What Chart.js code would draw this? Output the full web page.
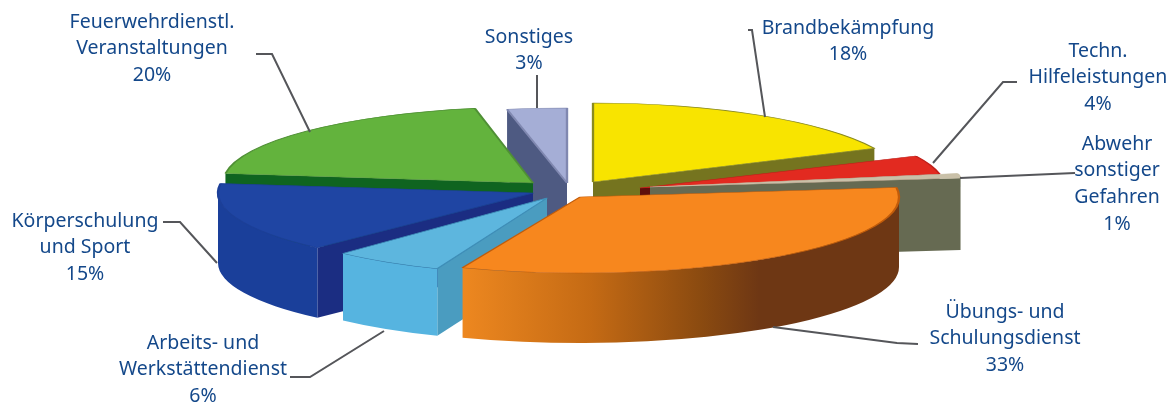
<!DOCTYPE html>
<html>
<head>
<meta charset="utf-8">
<style>
  html, body { margin: 0; padding: 0; background: #fff; }
  canvas { display: block; }
</style>
<script src="https://cdn.jsdelivr.net/npm/chart.js@4/dist/chart.umd.min.js"></script>
</head>
<body>
<canvas id="pieChart" width="1175" height="403"></canvas>
<script>
const categories = [
  ['Brandbekämpfung'],
  ['Techn.', 'Hilfeleistungen'],
  ['Abwehr', 'sonstiger', 'Gefahren'],
  ['Übungs- und', 'Schulungsdienst'],
  ['Arbeits- und', 'Werkstättendienst'],
  ['Körperschulung', 'und Sport'],
  ['Feuerwehrdienstl.', 'Veranstaltungen'],
  ['Sonstiges']
];
const values = [18, 4, 1, 33, 6, 15, 20, 3];

// colours of the top faces and the side walls
const topColors = ['#f8e400', '#e22a20', '#c9c0a8', '#f7871e', '#5db6de', '#1f45a3', '#63b33d', '#a5aed6'];
const topEdges = ['#8a8a20', '#c0201a', '#c9c0a8', '#c25c0a', '#3f8fb8', '#1c3f98', '#4f8f35', '#8088b0'];
const cutColors = ['#75741f', '#5e0f0c', '#666a52', '#b85f10', '#4a9cc0', '#1b2d82', '#0f6420', '#4e5a82'];
const outerColors = ['#75741f', '#5e0f0c', '#666a52', null, '#56b4e0', '#1a3f9a', '#0f6420', '#4e5a82'];

// exploded layout of every slice on the page
const apexX = [593, 640, 650, 580, 547, 533, 533, 567];
const apexY = [182, 188, 187, 197, 198, 193, 183, 183];
const radiusX = [311, 305, 313, 319, 298, 315, 310, 320];
const radiusY = [79, 75, 72, 76, 76, 75, 76, 75];
const depths = [70, 70, 72, 70, 67, 70, 70, 70];

// label centre x and the y of the first line
const labelX = [848, 1098, 1117, 1005, 203, 85, 152, 529];
const labelY = [28, 51, 144, 312, 343, 221, 22, 37];
const lineHeight = 26.7;
const leaders = [
  [[748, 30], [752, 30], [765, 117]],
  [[1017, 82], [1003, 82], [933, 163]],
  [[1075, 173], [960, 178]],
  [[918, 344], [897, 343], [773, 327]],
  [[290, 377], [310, 377], [384, 331]],
  [[163, 222], [180, 222], [217, 263]],
  [[256, 54], [272, 54], [310, 132]],
  [[537, 75], [537, 108]]
];
const drawOrder = [7, 6, 0, 1, 2, 5, 4, 3];

function orangeWall(ctx) {
  const g = ctx.createLinearGradient(460, 0, 900, 0);
  g.addColorStop(0, '#ee8820');
  g.addColorStop(0.3, '#c46a14');
  g.addColorStop(0.55, '#8a4a10');
  g.addColorStop(0.68, '#6e3714');
  g.addColorStop(1, '#6e3714');
  return g;
}

function cutWall(ctx, i, angle) {
  const x = apexX[i], y = apexY[i];
  const ox = x + radiusX[i] * Math.cos(angle);
  const oy = y + radiusY[i] * Math.sin(angle);
  ctx.fillStyle = cutColors[i];
  ctx.beginPath();
  ctx.moveTo(x, y);
  ctx.lineTo(ox, oy);
  ctx.lineTo(ox, oy + depths[i]);
  ctx.lineTo(x, y + depths[i]);
  ctx.closePath();
  ctx.fill();
}

function outerWall(ctx, i, a0, a1) {
  ctx.fillStyle = outerColors[i] || orangeWall(ctx);
  ctx.beginPath();
  ctx.ellipse(apexX[i], apexY[i], radiusX[i], radiusY[i], 0, a0, a1);
  ctx.ellipse(apexX[i], apexY[i] + depths[i], radiusX[i], radiusY[i], 0, a1, a0, true);
  ctx.closePath();
  ctx.fill();
}

const tiltedPie = {
  id: 'tiltedPie',
  beforeDatasetsDraw(chart) {
    const ctx = chart.ctx;
    const arcs = chart.getDatasetMeta(0).data;
    drawOrder.forEach(i => {
      const arc = arcs[i];
      if (Math.cos(arc.startAngle) < 0) cutWall(ctx, i, arc.startAngle);
      if (Math.cos(arc.endAngle) > 0) cutWall(ctx, i, arc.endAngle);
      const a0 = Math.max(arc.startAngle, 0), a1 = Math.min(arc.endAngle, Math.PI);
      if (a1 > a0) outerWall(ctx, i, a0, a1);
      // top face is the library's own arc, squashed onto the ellipse
      ctx.save();
      ctx.translate(apexX[i], apexY[i]);
      ctx.scale(radiusX[i] / arc.outerRadius, radiusY[i] / arc.outerRadius);
      ctx.translate(-arc.x, -arc.y);
      arc.draw(ctx);
      ctx.restore();
    });
    return false;
  },
  afterDraw(chart) {
    const ctx = chart.ctx;
    ctx.save();
    ctx.strokeStyle = '#55565a';
    ctx.lineWidth = 2;
    leaders.forEach(pts => {
      ctx.beginPath();
      pts.forEach((p, k) => k ? ctx.lineTo(p[0], p[1]) : ctx.moveTo(p[0], p[1]));
      ctx.stroke();
    });
    ctx.fillStyle = '#14488a';
    ctx.font = '19.5px "Noto Sans"';
    ctx.textAlign = 'center';
    ctx.textBaseline = 'middle';
    categories.forEach((lines, i) => {
      lines.concat(values[i] + '%').forEach((t, k) => {
        ctx.fillText(t, labelX[i], labelY[i] + k * lineHeight);
      });
    });
    ctx.restore();
  }
};

new Chart(document.getElementById('pieChart'), {
  type: 'pie',
  data: {
    labels: categories,
    datasets: [{
      data: values,
      backgroundColor: topColors,
      borderColor: topEdges,
      borderWidth: 1.5
    }]
  },
  options: {
    responsive: false,
    animation: false,
    plugins: { legend: { display: false }, tooltip: { enabled: false } }
  },
  plugins: [tiltedPie]
});
</script>
</body>
</html>
